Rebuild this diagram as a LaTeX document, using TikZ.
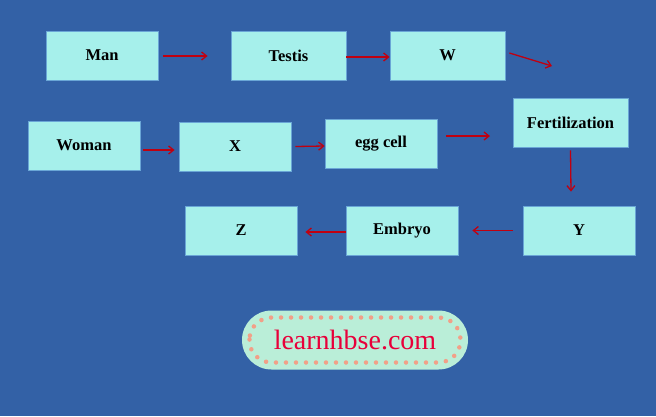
\documentclass[tikz,border=0pt]{standalone}
\usepackage{fontspec}
\setmainfont{Liberation Serif}
\usepackage{tikz}
\usetikzlibrary{arrows.meta}
\definecolor{bgblue}{HTML}{3361A6}
\definecolor{boxfill}{HTML}{A6F0EB}
\definecolor{boxline}{HTML}{6AA6D6}
\definecolor{arrowred}{HTML}{C00010}
\definecolor{logofill}{HTML}{BAEED8}
\definecolor{logodot}{HTML}{F2A088}
\definecolor{logotext}{HTML}{E8003A}
\tikzset{
every picture/.style={thick},
stage/.style={draw=boxline, fill=boxfill, line width=0.8pt, minimum width=112pt,
  minimum height=49pt, inner sep=0pt, font=\fontsize{16.5}{18}\selectfont\bfseries},
flow/.style={draw=arrowred, line width=1.3pt, -{Straight Barb[length=5pt,width=8pt]}}
}

\begin{document}
\begin{tikzpicture}[x=1pt, y=-1pt]
  \fill[bgblue] (0,0) rectangle (656,416);
  \useasboundingbox (0,0) rectangle (656,416);
  % top row
  \node[stage] (man) at (102,55.5) {Man};
  \node[stage, minimum width=115pt] (testis) at (288.5,55.5) {Testis};
  \node[stage, minimum width=115pt] (w) at (447.5,55.5) {W};
  % middle row
  \node[stage] (woman) at (84,145.5) {Woman};
  \node[stage] (x) at (235,146.5) {X};
  \node[stage] (egg) at (381,143.5) {egg cell};
  \node[stage, minimum width=115pt] (fert) at (570.5,122.5) {Fertilization};
  % bottom row
  \node[stage] (y) at (579,230.5) {Y};
  \node[stage] (embryo) at (402,230.5) {Embryo};
  \node[stage] (z) at (241,230.5) {Z};
  \coordinate (wend) at (552,66);
  \coordinate (eggend) at (490,136);
  \draw[flow] ([xshift=5pt, yshift=-0.5pt]man.east) -- ([xshift=-23pt, yshift=-0.5pt]testis.west);
  \draw[flow] ([yshift=-1.5pt]testis.east) -- ([yshift=-1.5pt]w.west);
  \draw[flow] ([xshift=4pt, yshift=2.5pt]w.east) -- (wend);
  \draw[flow] ([xshift=3pt, yshift=-4.5pt]woman.east) -- ([xshift=-4pt, yshift=-3.5pt]x.west);
  \draw[flow] ([xshift=4pt]x.east) -- ([yshift=-2.5pt]egg.west);
  \draw[flow] ([xshift=9pt, yshift=7.5pt]egg.east) -- (eggend);
  \draw[flow] ([yshift=-3pt]fert.south) -- ([xshift=-8pt, yshift=14pt]y.north);
  \draw[flow] ([xshift=-10pt]y.west) -- ([xshift=14pt]embryo.east);
  \draw[flow] ([yshift=-1.5pt]embryo.west) -- ([xshift=8pt, yshift=-1.5pt]z.east);
  % logo
  \node[draw=none, fill=logofill, rounded corners=29.5pt, minimum width=226pt,
    minimum height=59pt, font=\fontsize{28}{30}\selectfont, text=logotext]
    (logo) at (355,340) {learnhbse.com};
  \draw[logodot, line width=4.5pt, line cap=round, dash pattern=on 0pt off 10pt,
    rounded corners=22pt] (249.5,317.5) rectangle (460.5,362.5);
\end{tikzpicture}
\end{document}
